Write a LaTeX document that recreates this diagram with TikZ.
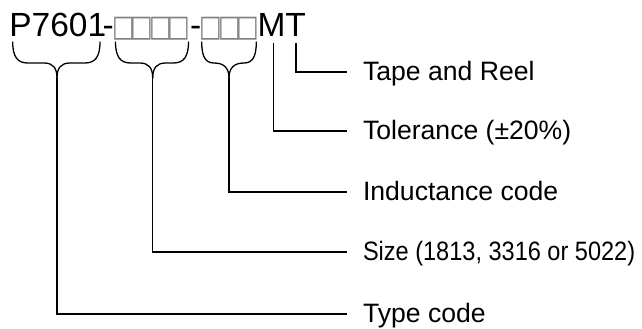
\documentclass[tikz,border=0pt]{standalone}
\usepackage{fontspec}
\usepackage{graphicx}
\setmainfont{Liberation Sans}
\newfontfamily\boxfont{DejaVu Sans}
\definecolor{boxgray}{RGB}{128,128,128}
\newcommand{\phbox}{\makebox[18.5pt][c]{\textcolor{boxgray}{\boxfont\fontsize{24}{24}\selectfont\scalebox{1}[1.25]{□}}}}
\begin{document}
\begin{tikzpicture}[x=1pt,y=-1pt,
  toptext/.style={inner sep=0pt,outer sep=0pt,anchor=base west,font=\fontsize{33.5}{33.5}\selectfont},
  lab/.style={inner xsep=16pt,inner ysep=0pt,outer sep=0pt,anchor=base west,text height=16pt,text depth=0pt,font=\fontsize{26.6}{26.6}\selectfont},
  conn/.style={line width=1.3pt,black},
  brc/.style={line width=1.3pt,black,line cap=round}]
\useasboundingbox (0,0) rectangle (642,329);
% top row
\node[toptext] (pn) at (9.4,37) {P7601};
\node[toptext] (d1) at (102.5,37) {-};
\node[toptext] (sz) at (114.5,37) {\phbox\phbox\phbox\phbox};
\node[toptext] (d2) at (190,37) {-};
\node[toptext] (ic) at (202,37) {\phbox\phbox\phbox};
\node[toptext] (mn) at (257.5,37) {M};
\node[toptext] (tn) at (mn.base east) {T};
% labels
\node[lab] (tap) at (347,80) {Tape and Reel};
\node[lab] (tol) at (347,139) {Tolerance (±20\%)};
\node[lab] (ind) at (347,200) {Inductance code};
\node[lab] (siz) at (347,260) {\scalebox{0.885}[1]{Size (1813, 3316 or 5022)}};
\node[lab] (typ) at (347,322) {Type code};
% brace tips and line starts
\coordinate (tA) at (57,78);
\coordinate (tB) at (152.7,78);
\coordinate (tC) at (229,78);
\coordinate (mtop) at (273.3,43);
\coordinate (ttop) at (296,43);
% braces
\draw[brc] (12.7,42) .. controls (12.7,57) and (17.7,63) .. (27.7,63) -- (44,63) .. controls (53,63) and (57,68) .. (tA);
\draw[brc] (100,42) .. controls (100,57) and (95,63) .. (85,63) -- (70,63) .. controls (61,63) and (57,68) .. (tA);
\draw[brc] (115.5,42) .. controls (115.5,57) and (120.5,63) .. (130.5,63) -- (139.7,63) .. controls (148.7,63) and (152.7,68) .. (tB);
\draw[brc] (188.5,42) .. controls (188.5,57) and (183.5,63) .. (173.5,63) -- (165.7,63) .. controls (156.7,63) and (152.7,68) .. (tB);
\draw[brc] (201.7,42) .. controls (201.7,57) and (205.7,63) .. (214,63) .. controls (224,63) and (229,68) .. (tC);
\draw[brc] (256.3,42) .. controls (256.3,57) and (252.3,63) .. (244,63) .. controls (234,63) and (229,68) .. (tC);
% connectors
\draw[conn] (tA) |- (typ.west);
\draw[conn] (tB) |- (siz.west);
\draw[conn] (tC) |- (ind.west);
\draw[conn] (mtop) |- (tol.west);
\draw[conn] (ttop) |- (tap.west);
\end{tikzpicture}
\end{document}
